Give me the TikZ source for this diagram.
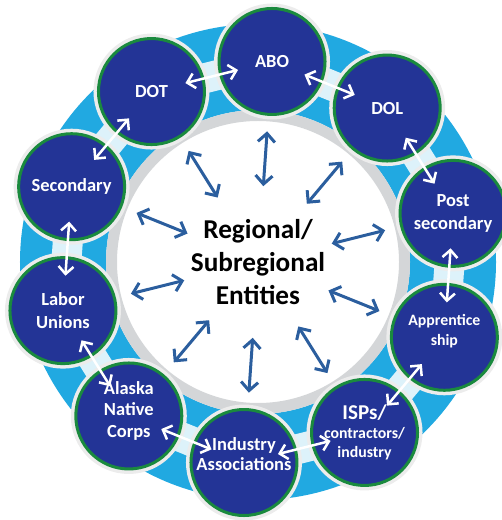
\documentclass[tikz,border=0pt]{standalone}
\usepackage{fontspec}
\setmainfont{Carlito}
\usepackage{xcolor}
\usetikzlibrary{arrows.meta, calc}
\pgfdeclarelayer{background}
\pgfsetlayers{background,main}
\definecolor{orgblue}{HTML}{233496}
\definecolor{orggreen}{HTML}{1A8A3E}
\definecolor{ringblue}{HTML}{21A9E1}
\definecolor{ringgray}{HTML}{D4D6D8}
\definecolor{spokeblue}{HTML}{2B5E9E}

\begin{document}
\begin{tikzpicture}[
	% --- STYLES ---
	% dark blue member circles with green rim and pale halo
	org/.style={
		circle,
		minimum size=2.12cm,
		inner sep=0pt,
		fill=orgblue,
		draw=orggreen,
		line width=0.06cm,
		preaction={draw=gray!15, line width=0.2cm},
		text=white,
		align=center,
		font=\bfseries\fontsize{10.5}{13}\selectfont
	},
	% text placed on a circle when it sits off centre
	orgtext/.style={
		text=white,
		align=center,
		font=\bfseries\fontsize{10.5}{12.5}\selectfont
	},
	hubtext/.style={
		align=center,
		font=\bfseries\fontsize{15.5}{18.8}\selectfont
	},
	% arrows from the hub out to the ring
	spoke/.style={
		{Straight Barb[length=1.7mm, width=3.4mm]}-{Straight Barb[length=1.7mm, width=3.4mm]},
		line width=0.06cm,
		draw=spokeblue
	},
	% arrows between neighbours on the ring
	link/.style={
		{Straight Barb[length=1.5mm, width=3mm]}-{Straight Barb[length=1.5mm, width=3mm]},
		line width=0.05cm,
		draw=white,
		shorten <=0.7cm,
		shorten >=0.7cm
	},
	gap/.style={
		line width=0.6cm,
		draw=white,
		opacity=0.85
	}
	]
	
	\useasboundingbox (-5.16,-5.16) rectangle (4.86,5.24);
	
	% --- Hub ---
	\node[hubtext] (hub) at (0,0) {Regional/\\Subregional\\Entities};
	
	% --- Ring members ---
	\node[org] (abo) at (86:4.02) {ABO};
	\node[org] (dol) at (50:4.02) {DOL};
	\node[org] (post) at (14:4.02) {Post\\secondary};
	\node[org, label={[orgtext, yshift=0.12cm, font=\bfseries\fontsize{9}{11.4}\selectfont]center:Apprentice\\ship}] (appr) at (-22:4.02) {};
	\node[org, font=\bfseries\fontsize{9}{10.8}\selectfont] (isp) at (-58:4.02) {{\fontsize{12}{13}\selectfont ISPs/}\\contractors/\\industry};
	\node[org, label={[orgtext, yshift=0.16cm, font=\bfseries\fontsize{10.5}{11.4}\selectfont]center:Industry\\Associations}] (ind) at (-94:4.02) {};
	\node[org, label={[orgtext, yshift=0.1cm]center:Alaska\\Native\\Corps}] (anc) at (-130:4.02) {};
	\node[org] (labor) at (-166:4.02) {Labor\\Unions};
	\node[org] (sec) at (158:4.02) {Secondary};
	\node[org] (dot) at (122:4.02) {DOT};
	
	% --- Ring band and the gaps behind the links ---
	\begin{pgfonlayer}{background}
		\fill[ringblue, even odd rule] (hub.center) circle (4.76) circle (3.04);
		\fill[ringgray, even odd rule] (hub.center) circle (3.04) circle (2.82);
		\draw[gap] (abo.center) -- (dol.center);
		\draw[gap] (dol.center) -- (post.center);
		\draw[gap] (post.center) -- (appr.center);
		\draw[gap] (appr.center) -- (isp.center);
		\draw[gap] (isp.center) -- (ind.center);
		\draw[gap] (ind.center) -- (anc.center);
		\draw[gap] (anc.center) -- (labor.center);
		\draw[gap] (labor.center) -- (sec.center);
		\draw[gap] (sec.center) -- (dot.center);
		\draw[gap] (dot.center) -- (abo.center);
	\end{pgfonlayer}
	
	% --- Links between neighbours ---
	\draw[link] (abo.center) -- (dol.center);
	\draw[link] (dol.center) -- (post.center);
	\draw[link] (post.center) -- (appr.center);
	\draw[link] (appr.center) -- (isp.center);
	\draw[link] (isp.center) -- (ind.center);
	\draw[link] (ind.center) -- (anc.center);
	\draw[link] (anc.center) -- (labor.center);
	\draw[link] (labor.center) -- (sec.center);
	\draw[link] (sec.center) -- (dot.center);
	\draw[link] (dot.center) -- (abo.center);
	
	% --- Spokes from the hub ---
	\draw[spoke] ($(hub.center)!1.52cm!(abo.center)$) -- ($(hub.center)!2.62cm!(abo.center)$);
	\draw[spoke] ($(hub.center)!1.52cm!(dol.center)$) -- ($(hub.center)!2.62cm!(dol.center)$);
	\draw[spoke] ($(hub.center)!1.52cm!(post.center)$) -- ($(hub.center)!2.62cm!(post.center)$);
	\draw[spoke] ($(hub.center)!1.52cm!(appr.center)$) -- ($(hub.center)!2.62cm!(appr.center)$);
	\draw[spoke] ($(hub.center)!1.52cm!(isp.center)$) -- ($(hub.center)!2.62cm!(isp.center)$);
	\draw[spoke] ($(hub.center)!1.52cm!(ind.center)$) -- ($(hub.center)!2.62cm!(ind.center)$);
	\draw[spoke] ($(hub.center)!1.52cm!(anc.center)$) -- ($(hub.center)!2.62cm!(anc.center)$);
	\draw[spoke] ($(hub.center)!1.52cm!(labor.center)$) -- ($(hub.center)!2.62cm!(labor.center)$);
	\draw[spoke] ($(hub.center)!1.52cm!(sec.center)$) -- ($(hub.center)!2.62cm!(sec.center)$);
	\draw[spoke] ($(hub.center)!1.52cm!(dot.center)$) -- ($(hub.center)!2.62cm!(dot.center)$);
	
\end{tikzpicture}
\end{document}
